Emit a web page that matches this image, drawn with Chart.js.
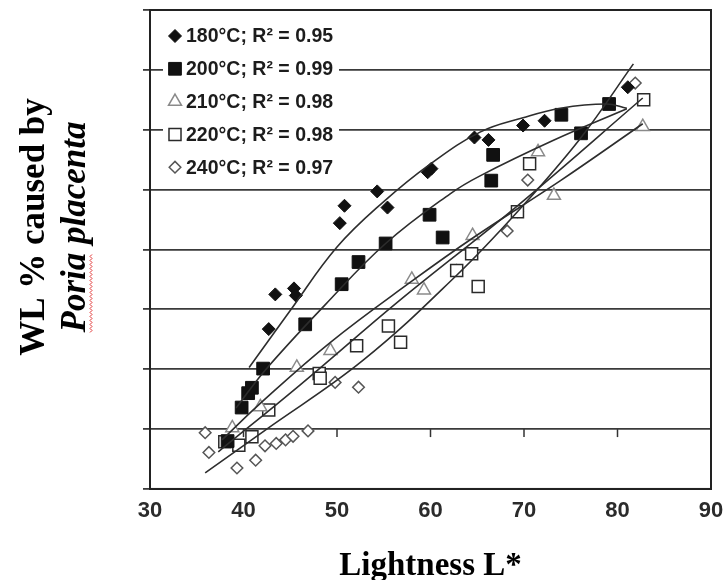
<!DOCTYPE html>
<html><head><meta charset="utf-8">
<script src="https://cdn.jsdelivr.net/npm/chart.js@4.4.0/dist/chart.umd.min.js"></script>
<style>html,body{margin:0;padding:0;background:#fff}canvas{display:block}</style>
</head><body>
<canvas id="c" width="728" height="580"></canvas>
<script>
// ---- data ----
const seriesLabels = ['180°C; R² = 0.95', '200°C; R² = 0.99', '210°C; R² = 0.98', '220°C; R² = 0.98', '240°C; R² = 0.97'];
const xTitle = 'Lightness L*';
const yTitleLines = ['WL % caused by', 'Poria placenta'];
const xTickValues = [30, 40, 50, 60, 70, 80, 90];

const lightness180 = [42.7, 43.4, 45.4, 45.6, 50.3, 50.8, 54.3, 55.4, 59.7, 60.1, 64.7, 66.2, 69.9, 72.2, 81.1];
const wl180        = [26.7, 32.5, 33.5, 32.3, 44.4, 47.3, 49.7, 47.0, 52.9, 53.5, 58.7, 58.3, 60.7, 61.5, 67.1];

const lightness200 = [38.3, 39.8, 40.5, 40.9, 42.1, 46.6, 50.5, 52.3, 55.2, 59.9, 61.3, 66.5, 66.7, 74.0, 76.1, 79.1];
const wl200        = [8.0, 13.6, 16.0, 16.9, 20.1, 27.5, 34.2, 37.9, 41.0, 45.8, 42.0, 51.5, 55.8, 62.5, 59.4, 64.3];

const lightness210 = [38.8, 41.8, 45.7, 49.3, 58.0, 59.3, 64.5, 71.5, 73.2, 82.7];
const wl210        = [10.2, 13.7, 20.3, 23.1, 35.0, 33.2, 42.3, 56.3, 49.0, 60.5];

const lightness220 = [38.0, 39.5, 40.9, 42.7, 48.1, 48.2, 52.1, 55.5, 56.8, 62.8, 64.4, 65.1, 69.3, 70.6, 82.8];
const wl220        = [7.9, 7.3, 8.7, 13.2, 19.3, 18.5, 23.9, 27.2, 24.5, 36.5, 39.3, 33.8, 46.3, 54.3, 65.0];

const lightness240 = [35.9, 36.3, 39.3, 41.3, 42.3, 43.5, 44.5, 45.3, 46.9, 49.8, 52.3, 62.8, 64.4, 68.2, 69.3, 70.4, 81.9];
const wl240        = [9.4, 6.1, 3.5, 4.8, 7.2, 7.6, 8.2, 8.8, 9.7, 17.8, 17.0, 36.5, 39.3, 43.1, 46.3, 51.6, 67.8];

// trendlines
const trend180X = [40.6, 45.0, 50.0, 55.0, 60.0, 65.3, 69.9, 73.9, 78.8, 81.0];
const trend180Y = [20.3, 29.8, 40.4, 48.0, 54.3, 59.6, 62.0, 63.6, 64.3, 63.6];
const trend200X = [39.2, 42.3, 48.7, 55.2, 62.1, 65.3, 73.1, 81.0];
const trend200Y = [13.5, 19.8, 30.7, 41.0, 49.3, 52.3, 58.2, 63.5];
const trend210X = [37.7, 41.8, 49.3, 58.0, 64.6, 73.9, 82.7];
const trend210Y = [8.2, 14.3, 24.5, 34.7, 42.0, 51.5, 61.0];
const trend220X = [37.3, 46.0, 56.7, 69.3, 82.7];
const trend220Y = [6.2, 17.3, 31.5, 47.3, 65.3];
const trend240X = [35.9, 42.3, 52.8, 62.8, 69.3, 76.0, 81.7];
const trend240Y = [2.7, 9.8, 21.5, 35.7, 46.3, 58.5, 71.0];

// ---- build chart ----
function pts(xs, ys) { return xs.map((x, i) => ({ x: x, y: ys[i] })); }

const markerDefs = [
  { style: 'rectRot', r: 6.5, bg: '#111', bc: '#111', bw: 1 },
  { style: 'rect', r: 9, bg: '#111', bc: '#111', bw: 1 },
  { style: 'triangle', r: 7.5, bg: '#fff', bc: '#8a8a8a', bw: 1.5 },
  { style: 'rect', r: 8.5, bg: '#fff', bc: '#2a2a2a', bw: 1.5 },
  { style: 'rectRot', r: 5.8, bg: '#fff', bc: '#555', bw: 1.5 }
];
const seriesX = [lightness180, lightness200, lightness210, lightness220, lightness240];
const seriesY = [wl180, wl200, wl210, wl220, wl240];
const trendX = [trend180X, trend200X, trend210X, trend220X, trend240X];
const trendY = [trend180Y, trend200Y, trend210Y, trend220Y, trend240Y];

const datasets = [];
seriesLabels.forEach((lab, i) => {
  const m = markerDefs[i];
  datasets.push({
    label: lab, data: pts(seriesX[i], seriesY[i]),
    pointStyle: m.style, pointRadius: m.r, pointHoverRadius: m.r,
    backgroundColor: m.bg, borderColor: m.bc, borderWidth: m.bw, pointBorderWidth: m.bw,
    showLine: false, order: 2
  });
});
seriesLabels.forEach((lab, i) => {
  datasets.push({
    label: lab + ' trend', data: pts(trendX[i], trendY[i]),
    showLine: true, pointRadius: 0, borderColor: '#2d2d2d', borderWidth: 1.6,
    tension: 0.4, fill: false, order: 1
  });
});

const decorPlugin = {
  id: 'decor',
  afterDatasetsDraw(chart) {
    const ctx = chart.ctx;
    const ca = chart.chartArea;
    const xs = chart.scales.x, ys = chart.scales.y;
    ctx.save();
    // tick marks along the crossing axis (y = 10)
    ctx.strokeStyle = '#333'; ctx.lineWidth = 1.5;
    const yc = ys.getPixelForValue(10);
    xTickValues.forEach(v => {
      const px = xs.getPixelForValue(v);
      ctx.beginPath(); ctx.moveTo(px, yc); ctx.lineTo(px, yc + 8); ctx.stroke();
    });
    // legend box
    ctx.fillStyle = '#fff';
    ctx.fillRect(ca.left + 13, ca.top + 8, 176, 166);
    seriesLabels.forEach((lab, i) => {
      const m = markerDefs[i];
      const y = ca.top + 26 + i * 32.8;
      const x = ca.left + 25;
      ctx.fillStyle = m.bg; ctx.strokeStyle = m.bc; ctx.lineWidth = m.bw;
      Chart.helpers.drawPoint(ctx, { pointStyle: m.style, radius: m.r, borderWidth: m.bw }, x, y);
      ctx.fillStyle = '#1c1c1c';
      ctx.font = 'bold 19.5px "Liberation Sans", Arial, sans-serif';
      ctx.textAlign = 'left'; ctx.textBaseline = 'middle';
      ctx.fillText(lab, x + 11, y + 1);
    });
    // frame
    ctx.strokeStyle = '#222'; ctx.lineWidth = 2;
    ctx.strokeRect(ca.left, ca.top, ca.right - ca.left, ca.bottom - ca.top);
    ctx.restore();
  },
  afterDraw(chart) {
    const ctx = chart.ctx;
    ctx.save();
    ctx.fillStyle = '#000';
    ctx.textAlign = 'center'; ctx.textBaseline = 'middle';
    // line 1
    ctx.save();
    ctx.translate(35, 227); ctx.rotate(-Math.PI / 2);
    ctx.font = 'bold 35px "Liberation Serif", "Times New Roman", serif';
    ctx.fillText(yTitleLines[0], 0, 0);
    ctx.restore();
    // line 2 (italic)
    ctx.save();
    ctx.translate(76, 227); ctx.rotate(-Math.PI / 2);
    ctx.font = 'italic bold 35px "Liberation Serif", "Times New Roman", serif';
    ctx.fillText(yTitleLines[1], 0, 0);
    const full = ctx.measureText(yTitleLines[1]).width;
    const first = ctx.measureText(yTitleLines[1].split(' ')[0]).width;
    // spell-check squiggle under the first word
    ctx.strokeStyle = '#e03030'; ctx.lineWidth = 1;
    ctx.beginPath();
    let sx = -full / 2, sy = 14;
    ctx.moveTo(sx, sy);
    let k = 0;
    for (let xx = sx + 2; xx <= sx + first; xx += 2) { k++; ctx.lineTo(xx, sy + (k % 2 ? 2 : 0)); }
    ctx.stroke();
    ctx.restore();
    ctx.restore();
  }
};

new Chart(document.getElementById('c'), {
  type: 'scatter',
  data: { datasets: datasets },
  options: {
    responsive: false, animation: false, devicePixelRatio: 1,
    layout: { padding: { left: 143, right: 17, top: 9, bottom: 0 } },
    plugins: { legend: { display: false }, tooltip: { enabled: false } },
    scales: {
      x: {
        type: 'linear', min: 30, max: 90,
        afterBuildTicks: (s) => { s.ticks = xTickValues.map(v => ({ value: v })); },
        afterFit: (s) => { s.paddingLeft = 0; s.paddingRight = 0; },
        grid: { display: false, drawTicks: false },
        border: { display: true, color: '#222', width: 2 },
        ticks: { color: '#2b2b2b', padding: 9, maxRotation: 0, font: { family: '"Liberation Sans", Arial, sans-serif', size: 22, weight: 'bold' } },
        title: { display: true, text: xTitle, color: '#000', padding: { top: 18.6, bottom: 0 }, font: { family: '"Liberation Serif", "Times New Roman", serif', size: 33, weight: 'bold', lineHeight: 0.85 } }
      },
      y: {
        type: 'linear', min: 0, max: 80,
        ticks: { display: false, stepSize: 10 },
        grid: { color: '#3a3a3a', lineWidth: 1.8, drawTicks: true, tickLength: 7 },
        border: { display: true, color: '#222', width: 2 }
      }
    }
  },
  plugins: [decorPlugin]
});
</script>
</body></html>
